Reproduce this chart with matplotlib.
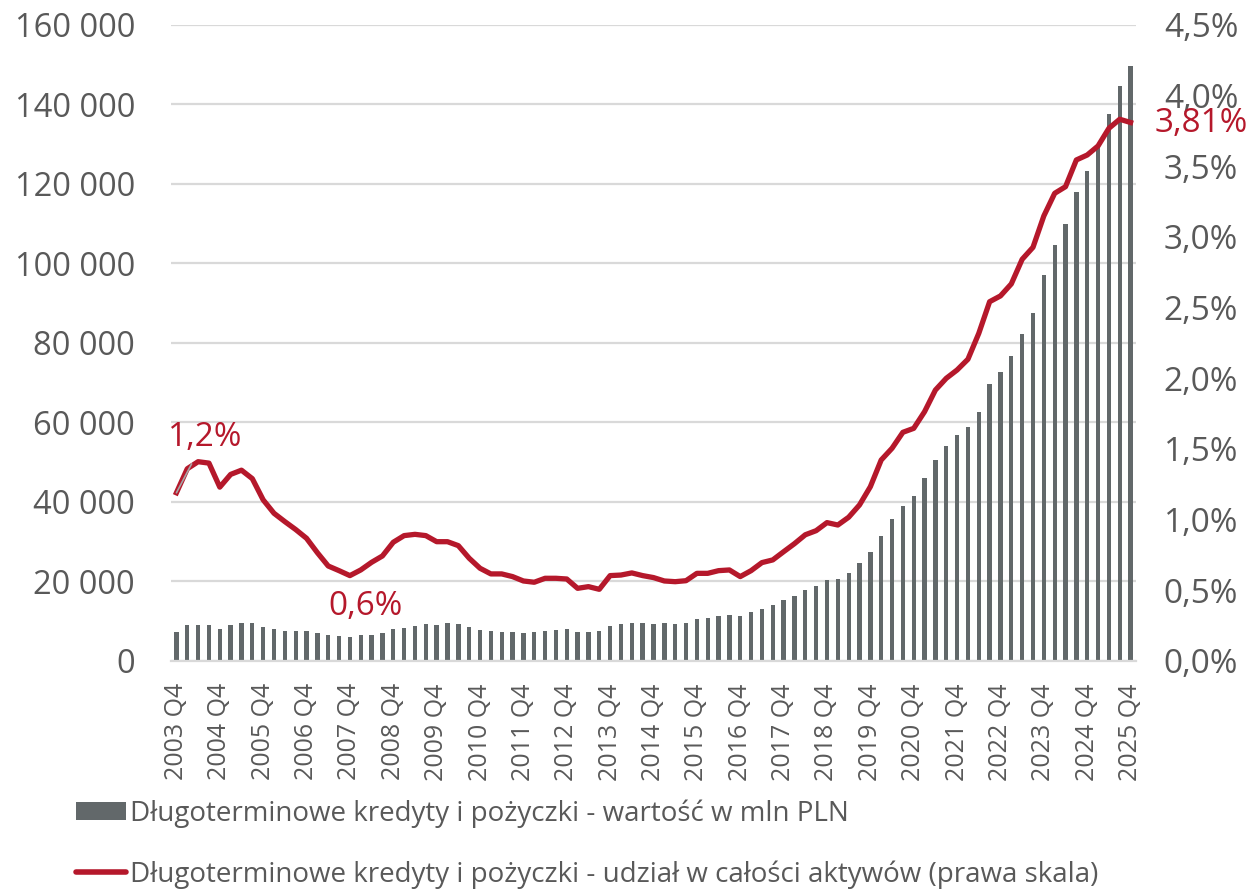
import matplotlib.pyplot as plt
from matplotlib.patches import Patch
from matplotlib.lines import Line2D
from matplotlib.ticker import FuncFormatter, MultipleLocator

plt.rcParams['font.family'] = ['Open Sans', 'DejaVu Sans']

# quarters 2003 Q4 .. 2025 Q4
quarters = ["2003 Q4"] + [f"{y} Q{q}" for y in range(2004, 2026) for q in range(1, 5)]

# long-term loans, mln PLN
values = [
    7400, 9000, 9000, 9000, 8100, 9150, 9500, 9500, 8650, 8100,
    7550, 7550, 7550, 7100, 6550, 6400, 5950, 6550, 6550, 7050,
    7950, 8300, 8900, 9200, 9050, 9550, 9200, 8450, 7800, 7550,
    7400, 7250, 7050, 7200, 7600, 7800, 7950, 7300, 7300, 7500,
    8800, 9250, 9550, 9650, 9300, 9500, 9400, 9650, 10500, 10750,
    11250, 11500, 11200, 12250, 13150, 14000, 15400, 16400, 17800, 18800,
    20300, 20650, 22050, 24750, 27500, 31450, 35650, 38900, 41450, 46100,
    50500, 54150, 56800, 58850, 62700, 69750, 72800, 76700, 82250, 87600,
    97000, 104650, 109900, 118000, 123200, 129400, 137500, 144650, 149700,
]

# share in total assets, %
share = [
    1.19, 1.36, 1.41, 1.40, 1.23, 1.32, 1.35, 1.29, 1.14, 1.045,
    0.986, 0.93, 0.868, 0.766, 0.672, 0.639, 0.604, 0.644, 0.698, 0.743,
    0.84, 0.887, 0.896, 0.887, 0.844, 0.844, 0.816, 0.727, 0.656, 0.616,
    0.616, 0.597, 0.566, 0.557, 0.585, 0.585, 0.58, 0.514, 0.526, 0.507,
    0.604, 0.608, 0.623, 0.604, 0.59, 0.566, 0.561, 0.568, 0.62, 0.62,
    0.639, 0.644, 0.597, 0.639, 0.696, 0.715, 0.773, 0.83, 0.893, 0.922,
    0.979, 0.962, 1.017, 1.104, 1.233, 1.422, 1.505, 1.618, 1.646, 1.764,
    1.917, 2.0, 2.059, 2.135, 2.318, 2.542, 2.583, 2.668, 2.842, 2.927,
    3.149, 3.309, 3.356, 3.545, 3.58, 3.644, 3.769, 3.833, 3.81,
]

GRAY = "#62686a"
RED = "#b5182b"
TXT = "#595959"
GRID = "#d9d9d9"

fig = plt.figure(figsize=(12.5, 8.89), dpi=100)
ax = fig.add_axes([0.1368, 0.2565, 0.772, 0.7154])
ax2 = ax.twinx()

x = list(range(len(quarters)))
ax.bar(x, values, width=0.4, color=GRAY, zorder=2)
ax2.plot(x, share, color=RED, lw=3.8, solid_joinstyle="round", zorder=3)

ax.set_xlim(-0.5, len(quarters) - 0.5)
ax.set_ylim(0, 160000)
ax.yaxis.set_major_locator(MultipleLocator(20000))
ax.yaxis.set_major_formatter(FuncFormatter(lambda v, p: f"{int(v):,}".replace(",", " ")))
ax2.set_ylim(0, 4.5)
ax2.yaxis.set_major_locator(MultipleLocator(0.5))
ax2.yaxis.set_major_formatter(FuncFormatter(lambda v, p: f"{v:.1f}%".replace(".", ",")))

ax.grid(axis="y", color=GRID, lw=1.6, zorder=0)
ax.set_axisbelow(True)
for a in (ax, ax2):
    for s in a.spines.values():
        s.set_visible(False)
    a.tick_params(length=0, colors=TXT)
ax.spines["bottom"].set_visible(True)
ax.spines["bottom"].set_color(GRID)
ax.spines["bottom"].set_linewidth(1.6)

ax.set_xticks(x[::4])
ax.set_xticklabels(quarters[::4], rotation=90, fontsize=18, color=TXT)
ax.tick_params(axis="x", pad=16)
ax.tick_params(axis="y", labelsize=23.5, pad=26)
ax2.tick_params(axis="y", labelsize=24, pad=20)

# data labels
ax2.annotate("1,2%", xy=(0, share[0]), xytext=(21, 40), textcoords="offset points",
             ha="center", va="center", fontsize=24, color=RED,
             arrowprops=dict(arrowstyle="-", color="#a6a6a6", lw=1.2, shrinkA=-6, shrinkB=0))
ax2.annotate("0,6%", xy=(16, share[16]), xytext=(11, -22), textcoords="offset points",
             ha="center", va="center", fontsize=24, color=RED)
ax2.annotate("3,81%", xy=(88, share[88]), xytext=(17, -1), textcoords="offset points",
             ha="left", va="center", fontsize=24, color=RED)

handles = [Patch(facecolor=GRAY, edgecolor="none"),
           Line2D([], [], color=RED, lw=4, solid_capstyle="round")]
labels = ["Długoterminowe kredyty i pożyczki - wartość w mln PLN",
          "Długoterminowe kredyty i pożyczki - udział w całości aktywów (prawa skala)"]
fig.legend(handles, labels, loc="upper left", bbox_to_anchor=(0.052, 0.1136),
           frameon=False, fontsize=20, labelspacing=1.17, handlelength=1.8,
           handleheight=0.62, handletextpad=0.15, borderaxespad=0,
           labelcolor=TXT)

fig.savefig("out.png", dpi=100)
